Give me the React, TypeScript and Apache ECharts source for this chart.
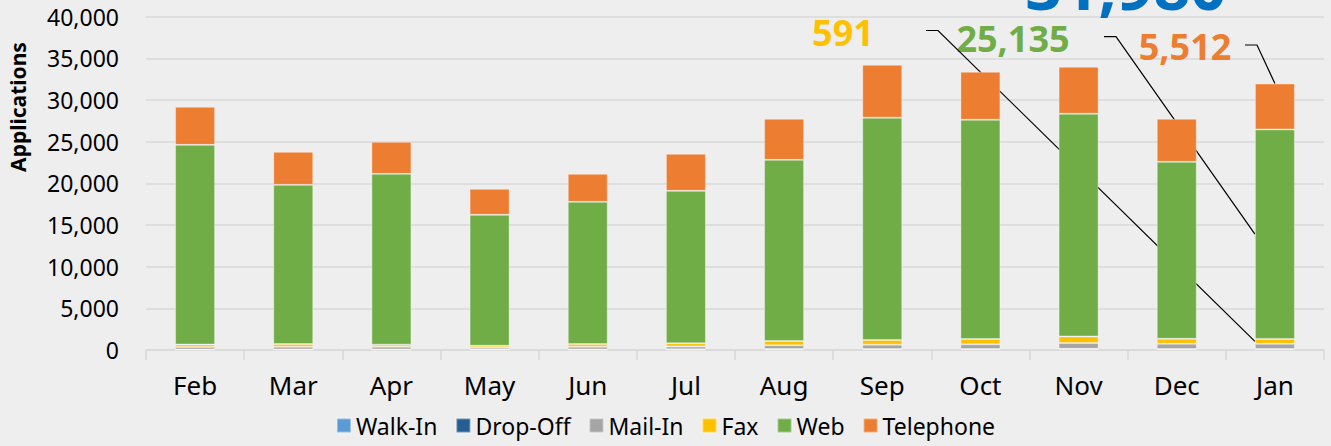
import React, { useEffect, useRef } from "react";
import * as echarts from "echarts";

const categories = ["Feb", "Mar", "Apr", "May", "Jun", "Jul", "Aug", "Sep", "Oct", "Nov", "Dec", "Jan"];
const walkIn = [60, 60, 60, 50, 60, 70, 100, 110, 110, 130, 110, 100];
const dropOff = [10, 10, 10, 10, 10, 10, 15, 15, 15, 20, 15, 22];
const mailIn = [300, 330, 320, 220, 320, 330, 450, 520, 560, 680, 620, 620];
const fax = [290, 320, 250, 230, 320, 400, 520, 560, 640, 800, 600, 591];
const web = [23960, 19100, 20500, 15710, 17070, 18290, 21735, 26665, 26305, 26720, 21235, 25135];
const telephone = [4570, 3960, 3840, 3120, 3360, 4440, 4930, 6360, 5760, 5640, 5170, 5512];
const yTicks = [0, 5000, 10000, 15000, 20000, 25000, 30000, 35000, 40000];

const FONT = "'Noto Sans', 'Open Sans', sans-serif";

const seriesDefs = [
  { name: "Walk-In", data: walkIn, color: "#5B9BD5" },
  { name: "Drop-Off", data: dropOff, color: "#255E91" },
  { name: "Mail-In", data: mailIn, color: "#A5A5A5" },
  { name: "Fax", data: fax, color: "#FFC000" },
  { name: "Web", data: web, color: "#70AD47" },
  { name: "Telephone", data: telephone, color: "#ED7D31" },
];

export default function App() {
  const ref = useRef<HTMLDivElement>(null);
  useEffect(() => {
    document.body.style.margin = "0";
    const chart = echarts.init(ref.current!, null, { renderer: "svg" });
    const last = categories.length - 1;
    const lastCat = categories[last];
    const below = walkIn[last] + dropOff[last] + mailIn[last];
    const faxMid = below + fax[last] / 2;
    const webMid = below + fax[last] + web[last] / 2;
    const total = below + fax[last] + web[last] + telephone[last];

    chart.setOption({
      animation: false,
      backgroundColor: "#eeeeee",
      textStyle: { fontFamily: FONT },
      grid: { left: 146, right: 7, top: 16.7, bottom: 96, containLabel: false },
      legend: {
        bottom: 4,
        left: "center",
        itemWidth: 14,
        itemHeight: 14,
        itemGap: 18,
        icon: "rect",
        textStyle: { fontSize: 23, color: "#000", fontFamily: FONT },
        data: seriesDefs.map((s) => s.name),
      },
      xAxis: {
        type: "category",
        data: categories,
        axisLine: { lineStyle: { color: "#d9d9d9", width: 1.5 } },
        axisTick: { show: true, length: 10, lineStyle: { color: "#d9d9d9", width: 1.5 } },
        axisLabel: { fontSize: 26, color: "#000", margin: 22, fontFamily: FONT },
      },
      yAxis: {
        type: "value",
        min: yTicks[0],
        max: yTicks[yTicks.length - 1],
        interval: yTicks[1] - yTicks[0],
        axisLine: { show: false },
        axisTick: { show: false },
        splitLine: { lineStyle: { color: "#d9d9d9", width: 1.5 } },
        axisLabel: {
          fontSize: 23,
          color: "#000",
          margin: 27,
          fontFamily: FONT,
          formatter: (v: number) => v.toLocaleString("en-US"),
        },
      },
      series: seriesDefs.map((s) => ({
        name: s.name,
        type: "bar",
        stack: "total",
        barWidth: 40,
        data: s.data,
        itemStyle: { color: s.color, borderColor: "rgba(255,255,255,0.35)", borderWidth: 1 },
      })),
    });

    const px = (v: number) => chart.convertToPixel({ xAxisIndex: 0, yAxisIndex: 0 }, [lastCat, v]) as number[];
    const pFax = px(faxMid);
    const pWeb = px(webMid);
    const pTot = px(total);

    const bold = (size: number) => `bold ${size}px ${FONT}`;
    chart.setOption({
      graphic: [
        {
          type: "text",
          x: 18,
          y: 107,
          rotation: Math.PI / 2,
          style: { text: "Applications", font: bold(21), fill: "#000", align: "center", verticalAlign: "middle" },
        },
        {
          type: "text",
          x: 1126,
          y: -15,
          style: { text: total.toLocaleString("en-US"), font: bold(64), fill: "#0070C0", align: "center", verticalAlign: "middle" },
        },
        {
          type: "text",
          x: 843,
          y: 32,
          style: { text: fax[last].toLocaleString("en-US"), font: bold(36), fill: "#FFC000", align: "center", verticalAlign: "middle" },
        },
        {
          type: "text",
          x: 1013,
          y: 38,
          style: { text: web[last].toLocaleString("en-US"), font: bold(36), fill: "#70AD47", align: "center", verticalAlign: "middle" },
        },
        {
          type: "text",
          x: 1185,
          y: 46,
          style: { text: telephone[last].toLocaleString("en-US"), font: bold(36), fill: "#ED7D31", align: "center", verticalAlign: "middle" },
        },
        {
          type: "polyline",
          shape: { points: [[926, 30.5], [938, 30.5], [pFax[0] - 20, pFax[1]]] },
          style: { stroke: "#000", lineWidth: 1.2, fill: "none" },
        },
        {
          type: "polyline",
          shape: { points: [[1104, 36.6], [1116, 36.6], [pWeb[0] - 20, pWeb[1]]] },
          style: { stroke: "#000", lineWidth: 1.2, fill: "none" },
        },
        {
          type: "polyline",
          shape: { points: [[1245, 45], [1257, 45], [pTot[0], pTot[1]]] },
          style: { stroke: "#000", lineWidth: 1.2, fill: "none" },
        },
      ],
    });

    return () => chart.dispose();
  }, []);
  return <div ref={ref} style={{ width: 1331, height: 446 }} />;
}
